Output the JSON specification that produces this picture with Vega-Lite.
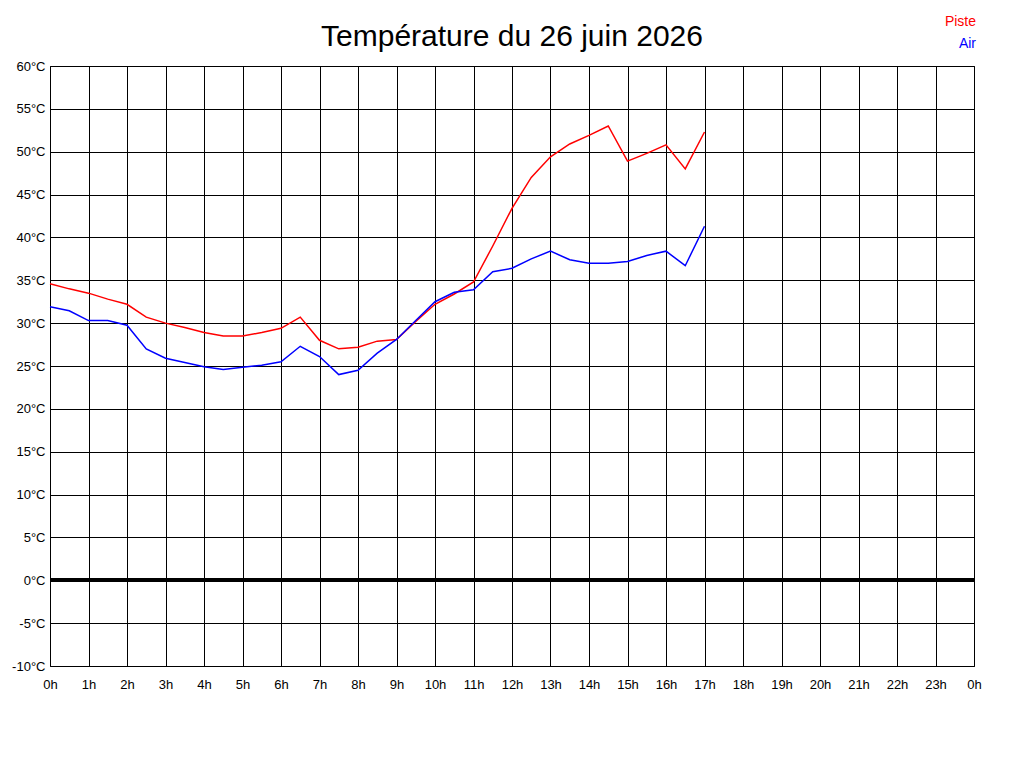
{
  "$schema": "https://vega.github.io/schema/vega-lite/v6.json",
  "autosize": {"type": "none"},
  "width": 924,
  "height": 600,
  "padding": {"left": 50, "top": 66, "right": 50, "bottom": 102},
  "background": "white",
  "title": {
    "text": "Température du 26 juin 2026",
    "font": "Liberation Sans",
    "fontSize": 30,
    "fontWeight": "normal",
    "color": "black",
    "anchor": "middle",
    "frame": "group",
    "offset": 16,
    "dy": 53
  },
  "config": {
    "view": {"stroke": "black", "strokeWidth": 1},
    "axis": {
      "grid": true,
      "gridColor": "black",
      "gridOpacity": 1,
      "gridWidth": 1,
      "domain": false,
      "ticks": false,
      "labelFont": "Liberation Sans",
      "labelFontSize": 13,
      "labelColor": "black",
      "title": null
    }
  },
  "data": {
    "values": [
      {"h": 0, "serie": "Piste", "t": 34.6},
      {"h": 0.5, "serie": "Piste", "t": 34.0},
      {"h": 1, "serie": "Piste", "t": 33.5},
      {"h": 1.5, "serie": "Piste", "t": 32.8},
      {"h": 2, "serie": "Piste", "t": 32.2},
      {"h": 2.5, "serie": "Piste", "t": 30.7},
      {"h": 3, "serie": "Piste", "t": 30.0},
      {"h": 3.5, "serie": "Piste", "t": 29.5},
      {"h": 4, "serie": "Piste", "t": 28.9},
      {"h": 4.5, "serie": "Piste", "t": 28.5},
      {"h": 5, "serie": "Piste", "t": 28.5},
      {"h": 5.5, "serie": "Piste", "t": 28.9},
      {"h": 6, "serie": "Piste", "t": 29.4},
      {"h": 6.5, "serie": "Piste", "t": 30.7},
      {"h": 7, "serie": "Piste", "t": 28.0},
      {"h": 7.5, "serie": "Piste", "t": 27.0},
      {"h": 8, "serie": "Piste", "t": 27.2},
      {"h": 8.5, "serie": "Piste", "t": 27.9},
      {"h": 9, "serie": "Piste", "t": 28.1},
      {"h": 9.5, "serie": "Piste", "t": 30.2},
      {"h": 10, "serie": "Piste", "t": 32.2},
      {"h": 10.5, "serie": "Piste", "t": 33.4},
      {"h": 11, "serie": "Piste", "t": 34.8},
      {"h": 11.5, "serie": "Piste", "t": 39.0},
      {"h": 12, "serie": "Piste", "t": 43.4},
      {"h": 12.5, "serie": "Piste", "t": 47.0},
      {"h": 13, "serie": "Piste", "t": 49.4},
      {"h": 13.5, "serie": "Piste", "t": 50.9},
      {"h": 14, "serie": "Piste", "t": 51.9},
      {"h": 14.5, "serie": "Piste", "t": 53.0},
      {"h": 15, "serie": "Piste", "t": 48.9},
      {"h": 15.5, "serie": "Piste", "t": 49.8},
      {"h": 16, "serie": "Piste", "t": 50.8},
      {"h": 16.5, "serie": "Piste", "t": 48.0},
      {"h": 17, "serie": "Piste", "t": 52.3},
      {"h": 0, "serie": "Air", "t": 31.9},
      {"h": 0.5, "serie": "Air", "t": 31.45},
      {"h": 1, "serie": "Air", "t": 30.3},
      {"h": 1.5, "serie": "Air", "t": 30.3},
      {"h": 2, "serie": "Air", "t": 29.75},
      {"h": 2.5, "serie": "Air", "t": 27.0},
      {"h": 3, "serie": "Air", "t": 25.9},
      {"h": 3.5, "serie": "Air", "t": 25.4},
      {"h": 4, "serie": "Air", "t": 24.9},
      {"h": 4.5, "serie": "Air", "t": 24.6},
      {"h": 5, "serie": "Air", "t": 24.85},
      {"h": 5.5, "serie": "Air", "t": 25.1},
      {"h": 6, "serie": "Air", "t": 25.5},
      {"h": 6.5, "serie": "Air", "t": 27.3},
      {"h": 7, "serie": "Air", "t": 26.1},
      {"h": 7.5, "serie": "Air", "t": 24.0},
      {"h": 8, "serie": "Air", "t": 24.5},
      {"h": 8.5, "serie": "Air", "t": 26.5},
      {"h": 9, "serie": "Air", "t": 28.1},
      {"h": 9.5, "serie": "Air", "t": 30.3},
      {"h": 10, "serie": "Air", "t": 32.5},
      {"h": 10.5, "serie": "Air", "t": 33.6},
      {"h": 11, "serie": "Air", "t": 33.9},
      {"h": 11.5, "serie": "Air", "t": 36.0},
      {"h": 12, "serie": "Air", "t": 36.4},
      {"h": 12.5, "serie": "Air", "t": 37.5},
      {"h": 13, "serie": "Air", "t": 38.4},
      {"h": 13.5, "serie": "Air", "t": 37.4},
      {"h": 14, "serie": "Air", "t": 37.0},
      {"h": 14.5, "serie": "Air", "t": 37.0},
      {"h": 15, "serie": "Air", "t": 37.2},
      {"h": 15.5, "serie": "Air", "t": 37.9},
      {"h": 16, "serie": "Air", "t": 38.4},
      {"h": 16.5, "serie": "Air", "t": 36.7},
      {"h": 17, "serie": "Air", "t": 41.3}
    ]
  },
  "encoding": {
    "x": {
      "field": "h",
      "type": "quantitative",
      "scale": {"domain": [0, 24], "nice": false, "zero": false},
      "axis": {
        "values": [0, 1, 2, 3, 4, 5, 6, 7, 8, 9, 10, 11, 12, 13, 14, 15, 16, 17, 18, 19, 20, 21, 22, 23, 24],
        "labelExpr": "(datum.value % 24) + 'h'",
        "labelPadding": 12,
        "labelFlush": false,
        "labelOverlap": false
      }
    },
    "y": {
      "field": "t",
      "type": "quantitative",
      "scale": {"domain": [-10, 60], "nice": false, "zero": false},
      "axis": {
        "values": [-10, -5, 0, 5, 10, 15, 20, 25, 30, 35, 40, 45, 50, 55, 60],
        "labelExpr": "datum.value + '°C'",
        "labelPadding": 5,
        "labelFlush": false,
        "labelOverlap": false
      }
    }
  },
  "layer": [
    {
      "mark": {"type": "rule", "color": "black", "strokeWidth": 3},
      "encoding": {
        "x": {"value": 0},
        "x2": {"value": 924},
        "y": {"datum": 0}
      }
    },
    {
      "mark": {"type": "line", "strokeWidth": 1.5},
      "encoding": {
        "color": {
          "field": "serie",
          "type": "nominal",
          "scale": {"domain": ["Piste", "Air"], "range": ["#ff0000", "#0000ff"]},
          "legend": {
            "orient": "none",
            "legendX": 912,
            "legendY": -51,
            "title": null,
            "padding": 0,
            "symbolSize": 0,
            "symbolOpacity": 0,
            "symbolStrokeWidth": 0,
            "labelOffset": 0,
            "labelAlign": "right",
            "labelFont": "Liberation Sans",
            "labelFontSize": 14,
            "rowPadding": 8,
            "encode": {
              "labels": {
                "update": {
                  "fill": {"signal": "datum.value === 'Piste' ? '#ff0000' : '#0000ff'"}
                }
              }
            }
          }
        }
      }
    }
  ]
}
